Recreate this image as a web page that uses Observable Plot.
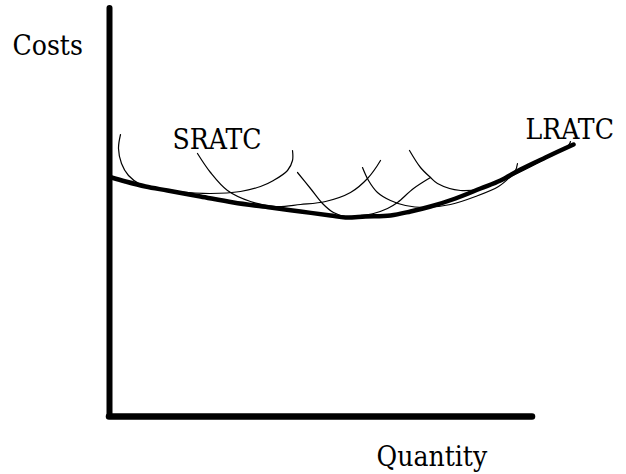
<!DOCTYPE html>
<html>
<head>
<meta charset="utf-8">
<script src="https://cdn.jsdelivr.net/npm/d3@7"></script>
<script src="https://cdn.jsdelivr.net/npm/@observablehq/plot@0.6"></script>
<style>
  html, body { margin: 0; padding: 0; background: #fff; }
  svg { display: block; }
</style>
</head>
<body>
<div id="chart"></div>
<script>
// Axis extents (quantity, cost) in arbitrary chart units
const quantityMax = 423;
const costMax = 408;

// Long-run average total cost (thick envelope)
const lratc = [[2,239],[16,235],[36,230],[58,226],[91,220],[124,214],[161,209],[191,205],[221,201],[236,199],[256,200],[281,201],[301,205],[321,210],[346,218],[371,228],[391,236],[411,247],[436,259],[464,272]];

// Short-run average total cost curves (thin)
const sratcA = [[11,282],[9,268],[12,253],[19,241],[31,232],[50,227],[66,225],[101,223],[131,225],[151,230],[164,236],[178,246],[183,256],[183,266]];
const sratcB = [[88,263],[101,244],[118,226],[141,215],[166,210],[191,212],[216,215],[241,224],[258,238],[271,256]];
const sratcC = [[188,244],[201,228],[213,213],[224,204],[236,200],[251,201],[264,203],[278,208],[288,214],[304,228],[321,239]];
const sratcD = [[253,249],[259,236],[268,224],[281,216],[296,211],[316,209],[341,212],[366,220],[389,230],[401,240],[406,246],[408,253]];
const sratcE = [[300,266],[311,249],[321,239],[328,233],[351,226],[371,228],[401,240],[431,255],[459,271],[461,275]];

// Text labels
const labelText = ["Costs", "SRATC", "LRATC", "Quantity"];
const labelQ = [-97, 63, 416, 267];
const labelC = [362, 268, 278, -49];

const toRows = (pts) => pts.map(([q, c]) => ({q, c}));
const sratcSets = [sratcA, sratcB, sratcC, sratcD, sratcE];
const labels = labelText.map((t, i) => ({t, q: labelQ[i], c: labelC[i]}));

const serif = "DejaVu Serif Condensed, DejaVu Serif";

const chart = Plot.plot({
  width: 626,
  height: 474,
  marginLeft: 109,
  marginRight: 94,
  marginTop: 8,
  marginBottom: 58,
  x: {domain: [0, quantityMax], axis: null},
  y: {domain: [0, costMax], axis: null},
  style: {background: "#fff", fontFamily: serif},
  marks: [
    ...sratcSets.map(s => Plot.line(toRows(s), {
      x: "q", y: "c", curve: "catmull-rom",
      stroke: "#000", strokeWidth: 1.2, strokeLinecap: "round"
    })),
    Plot.line(toRows(lratc), {
      x: "q", y: "c", curve: "catmull-rom",
      stroke: "#000", strokeWidth: 4.5, strokeLinecap: "round", strokeLinejoin: "round"
    }),
    Plot.ruleX([0], {stroke: "#000", strokeWidth: 6, strokeLinecap: "round"}),
    Plot.ruleY([0], {stroke: "#000", strokeWidth: 6.5, strokeLinecap: "round"}),
    Plot.text(labels, {
      x: "q", y: "c", text: "t",
      textAnchor: "start", lineAnchor: "bottom",
      fontSize: 28, fill: "#000",
      fontFamily: serif
    })
  ]
});
document.getElementById("chart").appendChild(chart);
</script>
</body>
</html>
